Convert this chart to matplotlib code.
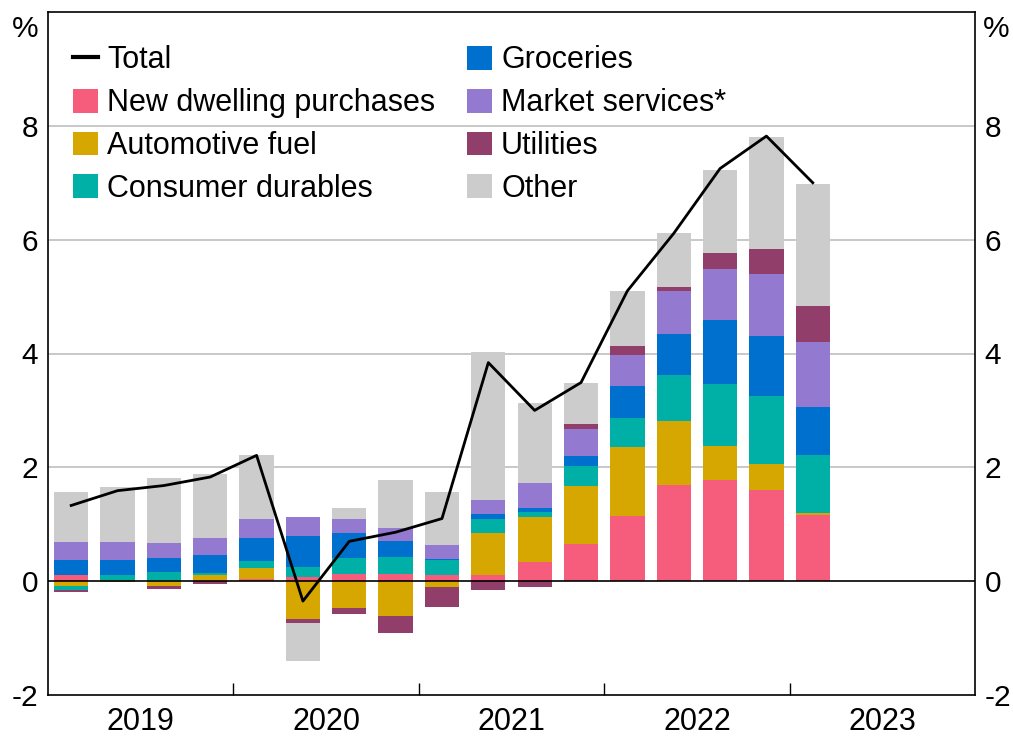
import matplotlib
matplotlib.use("Agg")
import matplotlib.pyplot as plt
import numpy as np
from matplotlib.patches import Patch
from matplotlib.lines import Line2D

plt.rcParams['font.family'] = ['Liberation Sans', 'DejaVu Sans']

# quarters 2019 Q1 .. 2023 Q1
quarters = ["2019Q1", "2019Q2", "2019Q3", "2019Q4",
            "2020Q1", "2020Q2", "2020Q3", "2020Q4",
            "2021Q1", "2021Q2", "2021Q3", "2021Q4",
            "2022Q1", "2022Q2", "2022Q3", "2022Q4",
            "2023Q1"]
years = ["2019", "2020", "2021", "2022", "2023"]

dwelling = [0.10, 0.00, 0.00, 0.00, 0.03, 0.08, 0.13, 0.13, 0.10, 0.10,
            0.34, 0.65, 1.15, 1.69, 1.77, 1.60, 1.17]
fuel = [-0.09, -0.02, -0.09, 0.10, 0.21, -0.67, -0.47, -0.62, -0.10, 0.75,
        0.79, 1.02, 1.20, 1.13, 0.60, 0.45, 0.03]
durables = [-0.07, 0.11, 0.16, 0.05, 0.12, 0.17, 0.27, 0.30, 0.27, 0.24,
            0.09, 0.36, 0.51, 0.81, 1.10, 1.20, 1.02]
groceries = [0.28, 0.27, 0.24, 0.31, 0.40, 0.54, 0.45, 0.27, 0.02, 0.09,
             0.06, 0.17, 0.57, 0.72, 1.12, 1.05, 0.84]
market = [0.30, 0.30, 0.27, 0.30, 0.33, 0.33, 0.24, 0.23, 0.24, 0.24,
          0.45, 0.48, 0.54, 0.75, 0.90, 1.09, 1.14]
utilities = [-0.03, 0.00, -0.04, -0.05, 0.00, -0.06, -0.11, -0.29, -0.35, -0.16,
             -0.10, 0.09, 0.16, 0.06, 0.27, 0.45, 0.63]
other = [0.88, 0.97, 1.14, 1.13, 1.13, -0.68, 0.20, 0.84, 0.93, 2.61,
         1.40, 0.72, 0.96, 0.96, 1.46, 1.97, 2.15]
total = [1.33, 1.59, 1.68, 1.83, 2.21, -0.35, 0.70, 0.86, 1.10, 3.84,
         3.00, 3.49, 5.10, 6.11, 7.25, 7.82, 7.00]

series = [("New dwelling purchases", dwelling, "#F65C7C"),
          ("Automotive fuel", fuel, "#D6A700"),
          ("Consumer durables", durables, "#00B0A6"),
          ("Groceries", groceries, "#0070CE"),
          ("Market services*", market, "#937AD0"),
          ("Utilities", utilities, "#923E6B"),
          ("Other", other, "#CCCCCC")]

FS = 21.5

fig = plt.figure(figsize=(10.13, 7.45), dpi=100)
ax = fig.add_axes([48/1013, 50/745, 927/1013, 683/745])

x = np.arange(len(quarters))
pos = np.zeros(len(x))
neg = np.zeros(len(x))
for name, vals, col in series:
    v = np.asarray(vals)
    bottom = np.where(v >= 0, pos, neg)
    ax.bar(x, v, 0.74, bottom=bottom, color=col, linewidth=0, zorder=2)
    pos = pos + np.where(v > 0, v, 0)
    neg = neg + np.where(v < 0, v, 0)

ax.plot(x, total, color="black", lw=2, zorder=4)

ax.set_xlim(-0.5, 19.5)
ax.set_ylim(-2, 10)
for yv in [2, 4, 6, 8]:
    ax.axhline(yv, color="#BFBFBF", lw=1.2, zorder=1)
ax.axhline(0, color="black", lw=1.2, zorder=3)

# y ticks both sides, no marks
ax.set_yticks([-2, 0, 2, 4, 6, 8])
ax.set_yticklabels(["-2", "0", "2", "4", "6", "8"])
ax.tick_params(axis="y", length=0, labelsize=FS, pad=7,
               labelleft=True, labelright=True)
ax.annotate("%", xy=(0, 1), xycoords="axes fraction", xytext=(-7, -2),
            textcoords="offset points", ha="right", va="top", fontsize=FS)
ax.annotate("%", xy=(1, 1), xycoords="axes fraction", xytext=(6, -2),
            textcoords="offset points", ha="left", va="top", fontsize=FS)

# year ticks
ax.set_xticks([3.5, 7.5, 11.5, 15.5])
ax.set_xticklabels([])
ax.tick_params(axis="x", direction="in", length=9, width=1, color="black")
ax.set_xticks([1.5, 5.5, 9.5, 13.5, 17.5], minor=True)
ax.set_xticklabels(years, minor=True)
ax.tick_params(axis="x", which="minor", length=0, labelsize=22, pad=9)

for s in ax.spines.values():
    s.set_linewidth(1.2)
    s.set_color("black")

handles = [Line2D([], [], color="black", lw=3)]
labels = ["Total"]
for name, vals, col in series:
    handles.append(Patch(facecolor=col, edgecolor="none"))
    labels.append(name)
# column order: col1 Total, dwelling, fuel, durables; col2 groceries, market, utilities, other
leg = ax.legend(handles, labels, loc="upper left", ncol=2, frameon=False,
                bbox_to_anchor=(0.027, 0.951), borderpad=0, borderaxespad=0,
                fontsize=22, handlelength=0.82, handleheight=0.82,
                handletextpad=0.3, labelspacing=0.42, columnspacing=1.03)

fig.savefig("out.png", dpi=100)
